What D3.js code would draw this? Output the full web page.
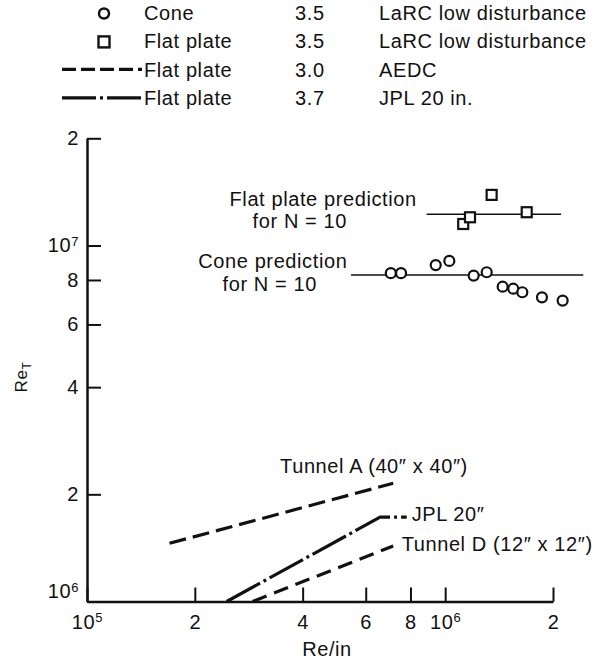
<!DOCTYPE html>
<html>
<head>
<meta charset="utf-8">
<script src="https://cdn.jsdelivr.net/npm/d3@7"></script>
<style>
  body { margin: 0; background: #fff; }
  svg { display: block; font-family: "Liberation Sans", Arial, "DejaVu Sans", sans-serif; }
  text { fill: #111; letter-spacing: 0.6px; }
</style>
</head>
<body>
<svg id="chart" width="615" height="666"></svg>
<script>
// Re/in (x) and transition Reynolds number Re_T (y)
var coneRe  = [7.05e5, 7.53e5, 9.41e5, 1.027e6, 1.201e6, 1.306e6, 1.447e6, 1.549e6, 1.642e6, 1.863e6, 2.128e6];
var coneRet = [8.36e6, 8.36e6, 8.81e6, 9.05e6, 8.23e6, 8.41e6, 7.66e6, 7.56e6, 7.39e6, 7.15e6, 7.00e6];

var plateRe  = [1.123e6, 1.173e6, 1.348e6, 1.689e6];
var plateRet = [1.149e7, 1.200e7, 1.387e7, 1.240e7];

var conePredRe  = [5.46e5, 2.43e6];
var conePredRet = [8.26e6, 8.26e6];
var platePredRe  = [8.88e5, 2.106e6];
var platePredRet = [1.224e7, 1.224e7];

var tunnelARe  = [1.70e5, 7.16e5];
var tunnelARet = [1.457e6, 2.148e6];
var jplRe  = [2.455e5, 6.58e5, 7.81e5];
var jplRet = [1.0e6, 1.725e6, 1.725e6];
var tunnelDRe  = [2.90e5, 7.16e5];
var tunnelDRet = [1.0e6, 1.432e6];

var xTickValues = [1e5, 2e5, 4e5, 6e5, 8e5, 1e6, 2e6];
var xTickLabels = [["10", "5"], ["2"], ["4"], ["6"], ["8"], ["10", "6"], ["2"]];
var yTickValues = [1e6, 2e6, 4e6, 6e6, 8e6, 1e7, 2e7];
var yTickLabels = [["10", "6"], ["2"], ["4"], ["6"], ["8"], ["10", "7"], ["2"]];

var legendSymbols  = ["circle", "square", "dash", "dashdot"];
var legendModels   = ["Cone", "Flat plate", "Flat plate", "Flat plate"];
var legendMach     = ["3.5", "3.5", "3.0", "3.7"];
var legendFacility = ["LaRC low disturbance", "LaRC low disturbance", "AEDC", "JPL 20 in."];

// annotation text and its anchor (start of baseline) in data units
var noteTexts = ["Tunnel A (40\u2033 x 40\u2033)", "JPL 20\u2033", "Tunnel D (12\u2033 x 12\u2033)",
                 "Flat plate prediction", "for N = 10", "Cone prediction", "for N = 10"];
var noteRe  = [3.46e5, 8.06e5, 7.56e5, 2.50e5, 2.90e5, 2.045e5, 2.39e5];
var noteRet = [2.29e6, 1.683e6, 1.387e6, 1.29e7, 1.122e7, 8.63e6, 7.45e6];

var svg = d3.select("#chart");
var margin = {top: 138.3, right: 62, bottom: 64.5, left: 87};
var width = 615 - margin.left - margin.right;
var height = 666 - margin.top - margin.bottom;

var x = d3.scaleLog().domain([1e5, 2e6]).range([margin.left, margin.left + width]);
var y = d3.scaleLog().domain([1e6, 2e7]).range([margin.top + height, margin.top]);

var line = d3.line()
  .x(function(d){ return x(d[0]); })
  .y(function(d){ return y(d[1]); });

function pairs(xs, ys){
  return xs.map(function(v, i){ return [v, ys[i]]; });
}

function superLabel(sel, parts, size){
  sel.text(null);
  sel.append("tspan").text(parts[0]);
  if (parts.length > 1){
    sel.append("tspan")
      .attr("dy", "-0.5em")
      .style("font-size", (size * 0.65) + "px")
      .text(parts[1]);
  }
}

// axes
var xAxis = d3.axisBottom(x)
  .tickValues(xTickValues)
  .tickSizeInner(-14)
  .tickSizeOuter(0)
  .tickPadding(13)
  .tickFormat(function(){ return ""; });

var yAxis = d3.axisLeft(y)
  .tickValues(yTickValues)
  .tickSizeInner(-14)
  .tickSizeOuter(0)
  .tickPadding(8)
  .tickFormat(function(){ return ""; });

var gx = svg.append("g")
  .attr("transform", "translate(0," + (margin.top + height) + ")")
  .call(xAxis);
var gy = svg.append("g")
  .attr("transform", "translate(" + margin.left + ",0)")
  .call(yAxis);

[gx, gy].forEach(function(g){
  g.select(".domain").attr("stroke", "#111").attr("stroke-width", 2.5);
  g.selectAll(".tick line").attr("stroke", "#111").attr("stroke-width", 2);
  g.selectAll(".tick text")
    .attr("font-family", null)
    .style("font-size", "20px")
    .attr("fill", "#111");
});

gx.selectAll(".tick text").each(function(d, i){
  superLabel(d3.select(this), xTickLabels[i], 20);
});
gy.selectAll(".tick text").each(function(d, i){
  superLabel(d3.select(this), yTickLabels[i], 20);
  if (i == 0){
    // 10^6 sits above the corner
    d3.select(this).attr("dy", "-0.2em");
  }
});

// axis titles
svg.append("text")
  .attr("x", 327)
  .attr("y", 656)
  .attr("text-anchor", "middle")
  .style("font-size", "20px")
  .text("Re/in");

var yTitle = svg.append("text")
  .attr("transform", "translate(27,377) rotate(-90)")
  .attr("text-anchor", "middle")
  .style("font-size", "17px");
yTitle.append("tspan").text("Re");
yTitle.append("tspan").attr("dy", "0.3em").style("font-size", "12px").text("T");

// tunnel correlations
var tunnelLines = [
  { id: "tunnel-a", dash: "17,7", values: pairs(tunnelARe, tunnelARet) },
  { id: "jpl", dash: "38,4,3,4", values: pairs(jplRe, jplRet) },
  { id: "tunnel-d", dash: "15,8", values: pairs(tunnelDRe, tunnelDRet) }
];

svg.selectAll(".tunnel-line")
  .data(tunnelLines)
  .enter().append("path")
    .attr("class", "tunnel-line")
    .attr("fill", "none")
    .attr("stroke", "#111")
    .attr("stroke-width", 3.2)
    .attr("stroke-dasharray", function(d){ return d.dash; })
    .attr("d", function(d){ return line(d.values); });

// N = 10 predictions
var predLines = [pairs(platePredRe, platePredRet), pairs(conePredRe, conePredRet)];
svg.selectAll(".pred-line")
  .data(predLines)
  .enter().append("path")
    .attr("class", "pred-line")
    .attr("fill", "none")
    .attr("stroke", "#111")
    .attr("stroke-width", 1.6)
    .attr("d", line);

// data points
svg.selectAll(".cone-pt")
  .data(pairs(coneRe, coneRet))
  .enter().append("circle")
    .attr("class", "cone-pt")
    .attr("cx", function(d){ return x(d[0]); })
    .attr("cy", function(d){ return y(d[1]); })
    .attr("r", 5)
    .attr("fill", "#fff")
    .attr("stroke", "#111")
    .attr("stroke-width", 2.2);

svg.selectAll(".plate-pt")
  .data(pairs(plateRe, plateRet))
  .enter().append("rect")
    .attr("class", "plate-pt")
    .attr("x", function(d){ return x(d[0]) - 5; })
    .attr("y", function(d){ return y(d[1]) - 5; })
    .attr("width", 10)
    .attr("height", 10)
    .attr("fill", "#fff")
    .attr("stroke", "#111")
    .attr("stroke-width", 2.2);

// annotations
svg.selectAll(".note")
  .data(noteTexts)
  .enter().append("text")
    .attr("class", "note")
    .attr("x", function(d, i){ return x(noteRe[i]); })
    .attr("y", function(d, i){ return y(noteRet[i]); })
    .style("font-size", "20px")
    .text(function(d){ return d; });

// legend
var legendTop = 20, legendStep = 28.4;
var legend = svg.append("g").attr("class", "legend");
var rows = legend.selectAll(".legend-row")
  .data(legendModels)
  .enter().append("g")
    .attr("class", "legend-row")
    .attr("transform", function(d, i){ return "translate(0," + (legendTop + i * legendStep) + ")"; });

rows.each(function(d, i){
  var row = d3.select(this);
  var kind = legendSymbols[i];
  if (kind == "circle"){
    row.append("circle").attr("cx", 104).attr("cy", -6.5).attr("r", 5)
      .attr("fill", "#fff").attr("stroke", "#111").attr("stroke-width", 2.4);
  } else if (kind == "square"){
    row.append("rect").attr("x", 98.5).attr("y", -12).attr("width", 11).attr("height", 11)
      .attr("fill", "#fff").attr("stroke", "#111").attr("stroke-width", 2.4);
  } else {
    row.append("line").attr("x1", 62).attr("x2", 142).attr("y1", -7.4).attr("y2", -7.4)
      .attr("stroke", "#111").attr("stroke-width", 3.2)
      .attr("stroke-dasharray", kind == "dash" ? "14,5" : "34,4,3,4");
  }
  row.append("text").attr("x", 144).style("font-size", "20px").text(legendModels[i]);
  row.append("text").attr("x", 295).style("font-size", "20px").text(legendMach[i]);
  row.append("text").attr("x", 379).style("font-size", "20px").text(legendFacility[i]);
});
</script>
</body>
</html>
